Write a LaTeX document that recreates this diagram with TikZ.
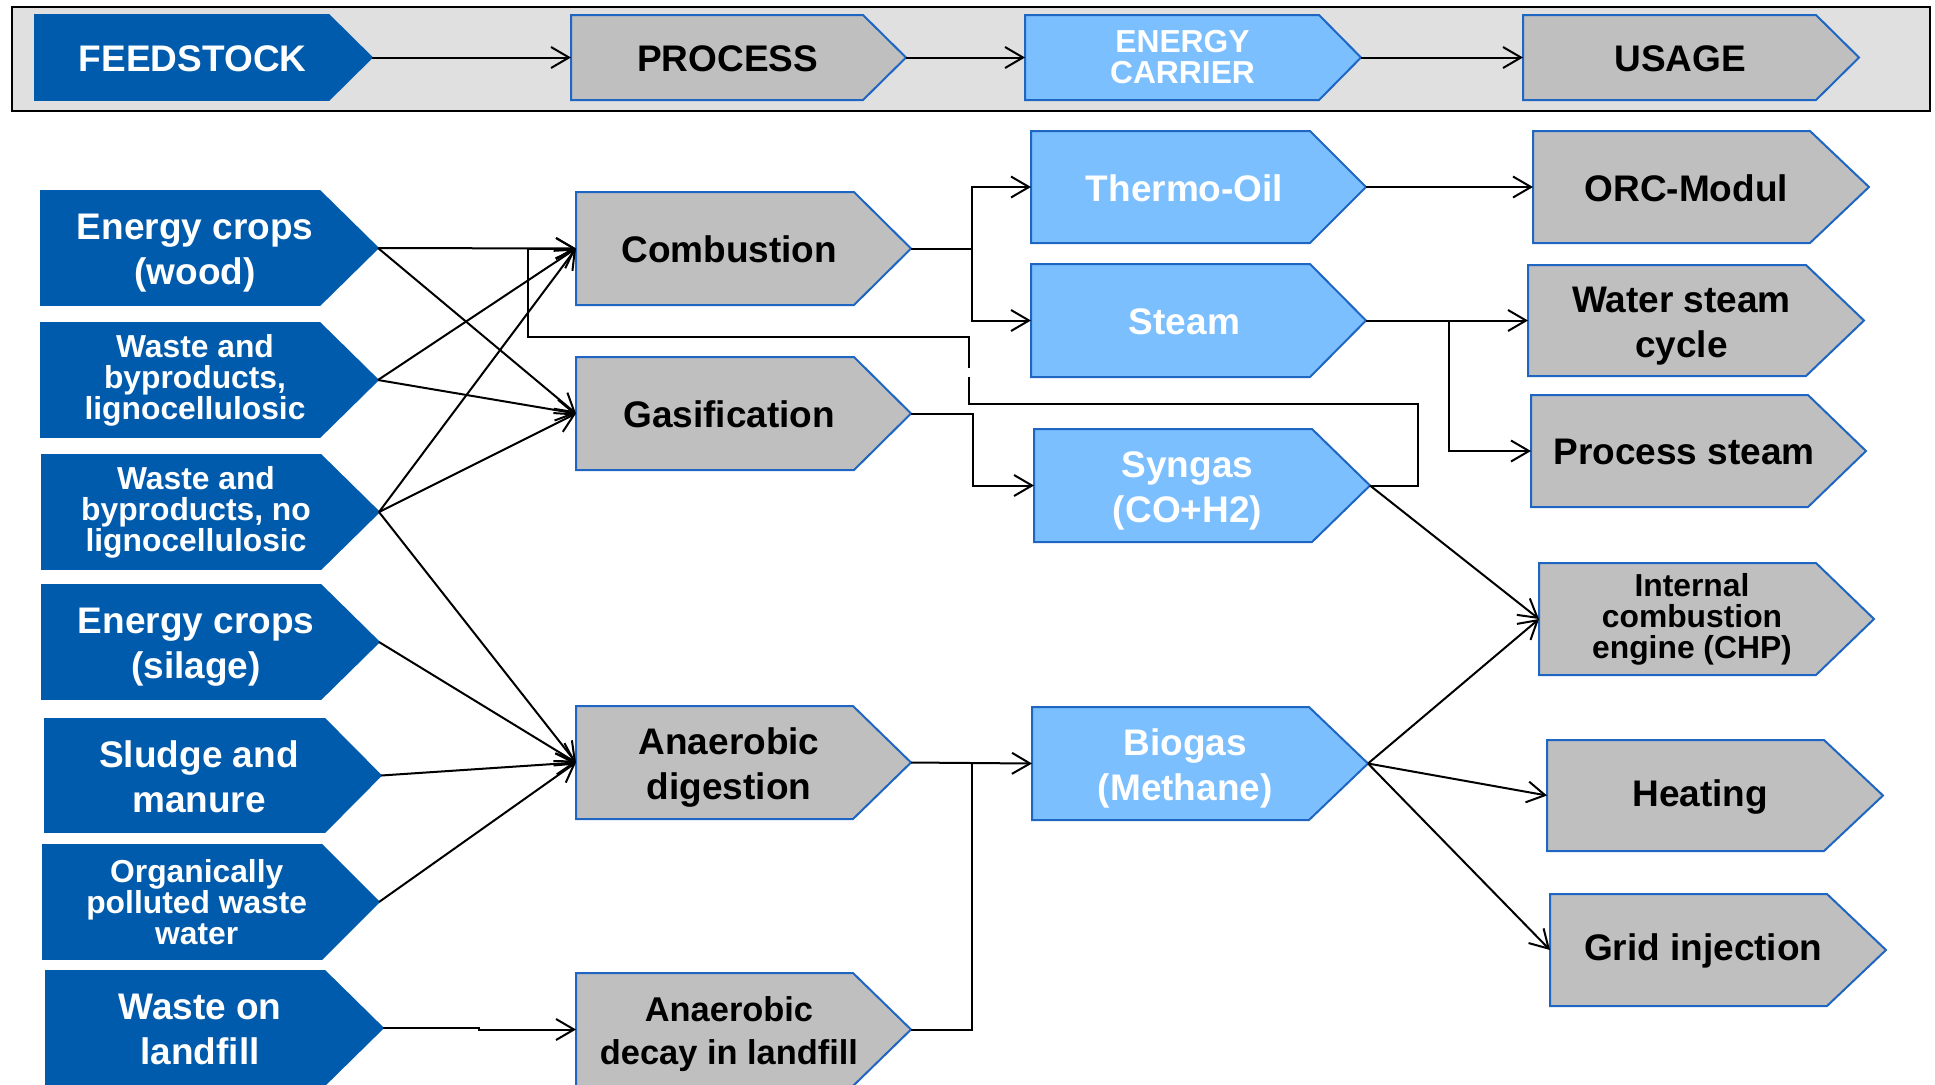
\documentclass[tikz,border=0pt]{standalone}
\usepackage{fontspec}
\setmainfont{Liberation Sans}
\usetikzlibrary{arrows.meta}
\definecolor{dkblue}{HTML}{005BAC}
\definecolor{ltblue}{HTML}{7BBFFF}
\definecolor{boxgray}{HTML}{BFBFBF}
\definecolor{edgeblue}{HTML}{1F66C2}
\definecolor{bandgray}{HTML}{E0E0E0}
\newcommand\bigf{\fontsize{18.5}{22.5}\selectfont\bfseries}
\newcommand\smallf{\fontsize{15.9}{15.5}\selectfont\bfseries}
\newcommand\midf{\fontsize{17.2}{21.6}\selectfont\bfseries}
% #1 extra text options, #2 name, #3 box style, #4 left x, #5 top y, #6 body right x, #7 tip x, #8 bottom y, #9 text
\newcommand\pent[9][]{%
  \filldraw[#3] (#4,#5) -- (#6,#5) -- (#7,{(#5+#8)/2}) -- (#6,#8) -- (#4,#8) -- cycle;
  \coordinate (#2-w) at (#4,{(#5+#8)/2});
  \coordinate (#2-e) at (#7,{(#5+#8)/2});
  \node[#3 text,#1] (#2) at ({#4+(#6-#4+(#7-#6)/2)/2},{(#5+#8)/2}) {#9};
}
\tikzset{
  feedbox/.style={fill=dkblue, draw=dkblue, line width=0.8pt},
  procbox/.style={fill=boxgray, draw=edgeblue, line width=1pt},
  carrbox/.style={fill=ltblue, draw=edgeblue, line width=1pt},
  feedbox text/.style={text=white, font=\bigf, align=center, inner sep=0pt, yshift=-0.6pt},
  procbox text/.style={text=black, font=\bigf, align=center, inner sep=0pt, yshift=-0.6pt},
  carrbox text/.style={text=white, font=\bigf, align=center, inner sep=0pt, yshift=-0.6pt},
  smalltxt/.style={font=\smallf, yshift=0.6pt},
  midtxt/.style={font=\midf, yshift=-1.6pt},
  lowtxt/.style={yshift=-2pt},
  wire/.style={draw=black, line width=1pt},
  conn/.style={wire, -{Straight Barb[length=9pt,width=10.5pt,line width=1pt]}},
}
\begin{document}
\begin{tikzpicture}[x=0.5pt,y=-0.5pt]
\useasboundingbox (0,0) rectangle (1935,1084);
% header band
\draw[fill=bandgray, line width=1pt] (12,7) rectangle (1930,111);
\pent{feed}{feedbox}{35}{15}{329}{372}{100}{FEEDSTOCK}
\pent{proc}{procbox}{571}{15}{863}{906}{100}{PROCESS}
\pent[smalltxt]{carr}{carrbox}{1025}{15}{1319}{1361}{100}{ENERGY\\CARRIER}
\pent{use}{procbox}{1523}{15}{1816}{1859}{100}{USAGE}
\draw[conn] (feed-e) -- (proc-w);
\draw[conn] (proc-e) -- (carr-w);
\draw[conn] (carr-e) -- (use-w);
% feedstock
\pent[lowtxt]{wood}{feedbox}{41}{191}{320}{378}{305}{Energy crops\\(wood)}
\pent[smalltxt]{ligno}{feedbox}{41}{323}{320}{378}{437}{Waste and\\byproducts,\\lignocellulosic}
\pent[smalltxt]{noligno}{feedbox}{42}{455}{321}{379}{569}{Waste and\\byproducts, no\\lignocellulosic}
\pent[lowtxt]{silage}{feedbox}{42}{585}{321}{379}{699}{Energy crops\\(silage)}
\pent{sludge}{feedbox}{45}{719}{325}{381}{832}{Sludge and\\manure}
\pent[smalltxt]{organic}{feedbox}{43}{845}{322}{379}{959}{Organically\\polluted waste\\water}
\pent{landfill}{feedbox}{46}{971}{325}{383}{1085}{Waste on\\landfill}
% processes
\pent{comb}{procbox}{576}{192}{854}{911}{305}{Combustion}
\pent{gas}{procbox}{576}{357}{854}{911}{470}{Gasification}
\pent[lowtxt]{ad}{procbox}{576}{706}{853}{911}{819}{Anaerobic\\digestion}
\pent[midtxt]{al}{procbox}{576}{973}{853}{911}{1086}{Anaerobic\\decay in landfill}
% carriers
\pent{thermo}{carrbox}{1031}{131}{1310}{1366}{243}{Thermo-Oil}
\pent{steam}{carrbox}{1031}{264}{1310}{1366}{377}{Steam}
\pent[lowtxt]{syngas}{carrbox}{1034}{429}{1312}{1370}{542}{Syngas\\(CO+H2)}
\pent[lowtxt]{biogas}{carrbox}{1032}{707}{1309}{1368}{820}{Biogas\\(Methane)}
% usage
\pent{orc}{procbox}{1533}{131}{1810}{1869}{243}{ORC-Modul}
\pent[lowtxt]{wsc}{procbox}{1528}{265}{1806}{1864}{376}{Water steam\\cycle}
\pent{ps}{procbox}{1531}{395}{1808}{1866}{507}{Process steam}
\pent[smalltxt]{ice}{procbox}{1539}{563}{1816}{1874}{675}{Internal\\combustion\\engine (CHP)}
\pent{heat}{procbox}{1547}{740}{1824}{1883}{851}{Heating}
\pent{grid}{procbox}{1550}{894}{1827}{1886}{1006}{Grid injection}
% feedstock -> process
\draw[conn] (wood-e) -- (comb-w);
\draw[conn] (wood-e) -- (gas-w);
\draw[conn] (ligno-e) -- (comb-w);
\draw[conn] (ligno-e) -- (gas-w);
\draw[conn] (noligno-e) -- (comb-w);
\draw[conn] (noligno-e) -- (gas-w);
\draw[conn] (noligno-e) -- (ad-w);
\draw[conn] (silage-e) -- (ad-w);
\draw[conn] (sludge-e) -- (ad-w);
\draw[conn] (organic-e) -- (ad-w);
\draw[conn] (landfill-e) -- ++(96,0) |- (al-w);
% process -> carrier
\coordinate (jc) at (972,248.5);
\draw[wire] (comb-e) -- (jc);
\draw[conn] (jc) |- (thermo-w);
\draw[conn] (jc) |- (steam-w);
\draw[conn] (gas-e) -- ++(62,0) |- (syngas-w);
\coordinate (jb) at (972,762.5);
\draw[conn] (ad-e) -- (biogas-w);
\draw[wire] (al-e) -| (jb);
% syngas back to combustion
\coordinate (ra) at (1418,404);
\coordinate (rb) at (969,377);
\coordinate (rc) at (969,368);
\coordinate (rd) at (528,337);
\draw[wire] (syngas-e) -| (ra) -- (rb |- ra) -- (rb);
\draw[conn] (rc) -- (rc |- rd) -- (rd) -- (rd |- comb-w) -- (comb-w);
% carrier -> usage
\draw[conn] (thermo-e) -- (orc-w);
\draw[conn] (steam-e) -- (wsc-w);
\coordinate (js) at (1449,320.5);
\draw[conn] (js) |- (ps-w);
\draw[conn] (syngas-e) -- (ice-w);
\draw[conn] (biogas-e) -- (ice-w);
\draw[conn] (biogas-e) -- (heat-w);
\draw[conn] (biogas-e) -- (grid-w);
\end{tikzpicture}
\end{document}
